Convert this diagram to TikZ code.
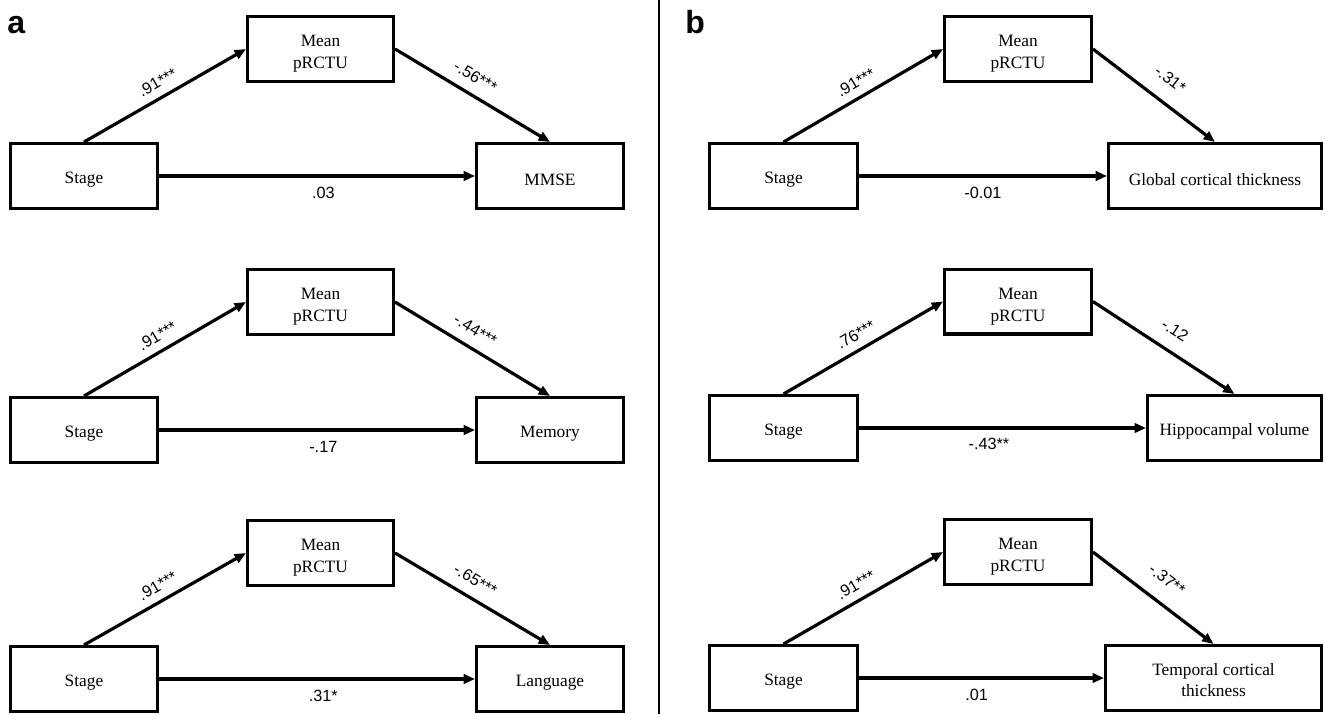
\documentclass[tikz,border=0pt]{standalone}
\usepackage{fontspec}
\setmainfont{Liberation Serif}
\newfontfamily\labsans{Liberation Sans}
\usetikzlibrary{arrows.meta}
\newcommand{\meanbox}{\rule{0pt}{16pt}Mean\\pRCTU}
\begin{document}
\begin{tikzpicture}[x=0.75pt,y=-0.75pt,
  box/.style={draw, line width=2.4pt, align=center, inner sep=2pt, minimum height=48.6pt,
    font=\fontsize{13}{16.3}\selectfont, execute at begin node={\rule{0pt}{14.5pt}}},
  conn/.style={line width=2.4pt, -{Triangle[length=8.5pt,width=7pt]}},
  lab/.style={font=\labsans\fontsize{12.2}{14}\selectfont, inner sep=3.8pt},
  panel/.style={font=\labsans\bfseries\fontsize{24}{28}\selectfont, inner sep=0pt, anchor=base west}]
\useasboundingbox (0,0) rectangle (1325,714);
\fill[white] (0,0) rectangle (1325,714);
\draw[line width=1pt] (659,0) -- (659,714);

\node[panel] (pa) at (7,33) {a};
\node[panel] (pb) at (685,33) {b};

% ---------- panel a ----------
\node[box, minimum width=110pt] (s1) at (84,176) {Stage};
\node[box, minimum width=109.4pt] (m1) at (320.5,49) {\meanbox};
\node[box, minimum width=110pt] (o1) at (550,176) {MMSE};
\draw[conn] (s1.north) -- node[lab, sloped, above=2pt] (l1a) {.91***} (m1.west);
\draw[conn] (m1.east) -- node[lab, sloped, pos=.46, above=4pt] (l1b) {-.56***} (o1.north);
\draw[conn] (s1.east) -- node[lab, pos=.52, below=3.5pt] (l1c) {.03} (o1.west);

\node[box, minimum width=110pt] (s2) at (84,430) {Stage};
\node[box, minimum width=109.4pt] (m2) at (320.5,302) {\meanbox};
\node[box, minimum width=110pt] (o2) at (550,430) {Memory};
\draw[conn] (s2.north) -- node[lab, sloped, above=2pt] (l2a) {.91***} (m2.west);
\draw[conn] (m2.east) -- node[lab, sloped, pos=.46, above=4pt] (l2b) {-.44***} (o2.north);
\draw[conn] (s2.east) -- node[lab, pos=.52, below=3.5pt] (l2c) {-.17} (o2.west);

\node[box, minimum width=110pt] (s3) at (84,679) {Stage};
\node[box, minimum width=109.4pt] (m3) at (320.5,553) {\meanbox};
\node[box, minimum width=110pt] (o3) at (550,679) {Language};
\draw[conn] (s3.north) -- node[lab, sloped, above=2pt] (l3a) {.91***} (m3.west);
\draw[conn] (m3.east) -- node[lab, sloped, pos=.46, above=4pt] (l3b) {-.65***} (o3.north);
\draw[conn] (s3.east) -- node[lab, pos=.52, below=3.5pt] (l3c) {.31*} (o3.west);

% ---------- panel b ----------
\node[box, minimum width=110.8pt] (t1) at (783.5,176) {Stage};
\node[box, minimum width=110pt] (n1) at (1018,49) {\meanbox};
\node[box, minimum width=159.6pt] (g1) at (1215,176) {Global cortical thickness};
\draw[conn] (t1.north) -- node[lab, sloped, above=2pt] (k1a) {.91***} (n1.west);
\draw[conn] (n1.east) -- node[lab, sloped, pos=.52, above=8pt] (k1b) {-.31*} (g1.north);
\draw[conn] (t1.east) -- node[lab, pos=.5, below=3.5pt] (k1c) {-0.01} (g1.west);

\node[box, minimum width=110.8pt] (t2) at (783.5,428) {Stage};
\node[box, minimum width=110pt] (n2) at (1018,301.5) {\meanbox};
\node[box, minimum width=130.4pt] (g2) at (1234.5,428) {Hippocampal volume};
\draw[conn] (t2.north) -- node[lab, sloped, above=2pt] (k2a) {.76***} (n2.west);
\draw[conn] (n2.east) -- node[lab, sloped, pos=.5, above=6.3pt] (k2b) {-.12} (g2.north);
\draw[conn] (t2.east) -- node[lab, pos=.453, below=2.5pt] (k2c) {-.43**} (g2.west);

\node[box, minimum width=110.8pt] (t3) at (783.5,678) {Stage};
\node[box, minimum width=110pt] (n3) at (1018,552) {\meanbox};
\node[box, minimum width=161.9pt] (g3) at (1213.5,678) {\rule{0pt}{12pt}Temporal cortical\\thickness};
\draw[conn] (t3.north) -- node[lab, sloped, above=2pt] (k3a) {.91***} (n3.west);
\draw[conn] (n3.east) -- node[lab, sloped, pos=.5, above=8pt] (k3b) {-.37**} (g3.north);
\draw[conn] (t3.east) -- node[lab, pos=.48, below=3.5pt] (k3c) {.01} (g3.west);
\end{tikzpicture}
\end{document}
